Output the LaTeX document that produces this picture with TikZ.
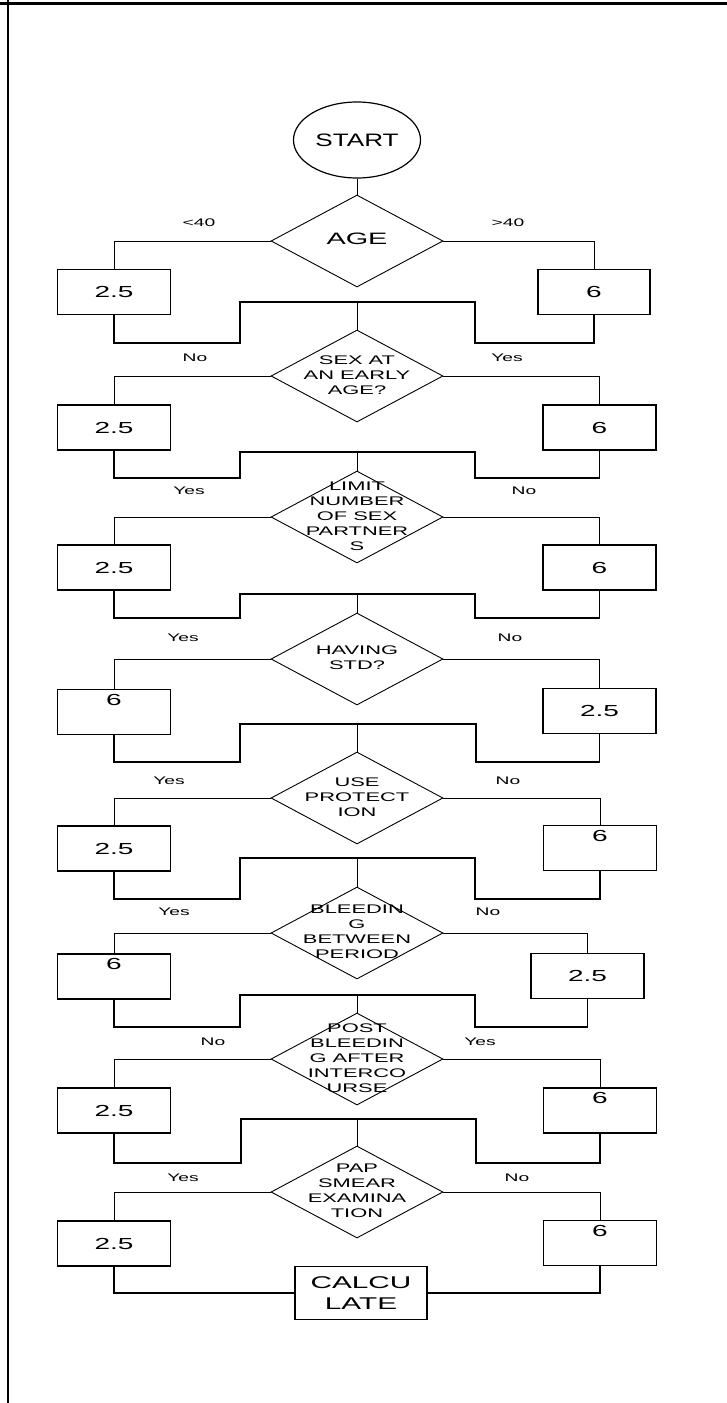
\documentclass[tikz,border=0pt]{standalone}
\usepackage{fontspec}
\setmainfont{Liberation Sans}[FakeStretch=1.75]
\newfontfamily\startfont{Liberation Sans}[FakeStretch=1.45]
\usetikzlibrary{shapes.geometric}

% text of a question, kept out of the size of the diamond
\newcommand{\qtext}[1]{\makebox[0pt]{\raisebox{-0.25em}[0pt][0pt]{\begin{tabular}{@{}c@{}}#1\end{tabular}}}}

\tikzset{
    startnode/.style={draw, ellipse, line width=1.2pt, minimum width=127pt, minimum height=76pt, font=\startfont\fontsize{18}{20}\selectfont},
    question/.style={draw, diamond, line width=0.9pt, inner sep=0pt, minimum width=172pt, minimum height=92pt, font=\fontsize{12.5}{15}\selectfont},
    valbox/.style={draw, rectangle, line width=1.5pt, minimum width=113pt, minimum height=45pt, font=\fontsize{16}{18}\selectfont},
    topval/.style={valbox, text height=11.5pt, text depth=25pt},
    calcbox/.style={draw, rectangle, line width=1.5pt, minimum width=132pt, minimum height=53pt, align=center, font=\fontsize{17}{21}\selectfont},
    answer/.style={font=\fontsize{11}{13}\selectfont},
    branch/.style={line width=0.8pt},
    merge/.style={line width=1.6pt},
}

\begin{document}
\begin{tikzpicture}[x=1pt, y=-1pt]
    \useasboundingbox (0,0) rectangle (727,1403);
    \draw[line width=3pt] (0,3) -- (727,3);
    \draw[line width=2pt] (7.5,0) -- (7.5,1403);

    \node[startnode] (start) at (357,140) {START};

    % age
    \node[question, font=\fontsize{16.5}{20}\selectfont] (q1) at (357,241) {\qtext{AGE}};
    \node[answer] (q1no) at (199,223) {<40};
    \node[answer] (q1yes) at (508,223) {>40};
    \node[valbox] (l1) at (114,292) {2.5};
    \node[valbox, minimum width=112pt] (r1) at (594,292) {6};

    % sex at an early age
    \node[question] (q2) at (357,376) {\qtext{SEX AT\\AN EARLY\\AGE?}};
    \node[answer] (q2no) at (195,358) {No};
    \node[answer] (q2yes) at (507,358) {Yes};
    \node[valbox] (l2) at (114,427.5) {2.5};
    \node[valbox] (r2) at (599.5,427.5) {6};

    % partners
    \node[question] (q3) at (357,517) {\qtext{LIMIT\\NUMBER\\OF SEX\\PARTNER\\S}};
    \node[answer] (q3yes) at (189,491) {Yes};
    \node[answer] (q3no) at (524,491) {No};
    \node[valbox] (l3) at (114,567.5) {2.5};
    \node[valbox] (r3) at (599.5,567.5) {6};

    % std
    \node[question] (q4) at (357,659) {\qtext{HAVING\\STD?}};
    \node[answer] (q4yes) at (183,638) {Yes};
    \node[answer] (q4no) at (510,638) {No};
    \node[topval] (l4) at (114,712) {6};
    \node[valbox] (r4) at (599.5,711) {2.5};

    % protection
    \node[question] (q5) at (357,798) {\qtext{USE\\PROTECT\\ION}};
    \node[answer] (q5yes) at (169,781) {Yes};
    \node[answer] (q5no) at (508,781) {No};
    \node[valbox] (l5) at (114,848.5) {2.5};
    \node[topval] (r5) at (600,848) {6};

    % bleeding between period
    \node[question] (q6) at (357,933) {\qtext{BLEEDIN\\G\\BETWEEN\\PERIOD}};
    \node[answer] (q6yes) at (174,912) {Yes};
    \node[answer] (q6no) at (488,912) {No};
    \node[topval] (l6) at (114,976.5) {6};
    \node[valbox] (r6) at (587.5,976) {2.5};

    % post bleeding
    \node[question] (q7) at (357,1059) {\qtext{POST\\BLEEDIN\\G AFTER\\INTERCO\\URSE}};
    \node[answer] (q7no) at (213,1042) {No};
    \node[answer] (q7yes) at (480,1042) {Yes};
    \node[valbox] (l7) at (114,1110.5) {2.5};
    \node[topval] (r7) at (600,1110.5) {6};

    % pap smear
    \node[question] (q8) at (357,1192) {\qtext{PAP\\SMEAR\\EXAMINA\\TION}};
    \node[answer] (q8yes) at (183,1178) {Yes};
    \node[answer] (q8no) at (517,1178) {No};
    \node[valbox] (l8) at (114,1243.5) {2.5};
    \node[topval] (r8) at (600,1243) {6};

    \node[calcbox] (calc) at (361,1293) {CALCU\\LATE};

    % branches
    \draw[branch] (start) -- (q1);
    \foreach \i in {1,...,8} {
        \draw[branch] (q\i.west) -| (l\i.north);
        \draw[branch] (q\i.east) -| (r\i.north);
    }

    % joins
    \coordinate (m1) at (357,302);
    \coordinate (m2) at (357,452);
    \coordinate (m3) at (357,594);
    \coordinate (m4) at (357,724);
    \coordinate (m5) at (357,858);
    \coordinate (m6) at (357,995);
    \coordinate (m7) at (357,1119);
    \draw[merge] (l1.south) |- (240,343) |- (m1) -| (475,343) -| (r1.south);
    \draw[merge] (l2.south) |- (240,478) |- (m2) -| (475,478) -| (r2.south);
    \draw[merge] (l3.south) |- (240,618) |- (m3) -| (475,618) -| (r3.south);
    \draw[merge] (l4.south) |- (240,762) |- (m4) -| (476,762) -| (r4.south);
    \draw[merge] (l5.south) |- (240,899) |- (m5) -| (475,899) -| (r5.south);
    \draw[merge] (l6.south) |- (240,1027) |- (m6) -| (475,1027) -| (r6.south);
    \draw[merge] (l7.south) |- (241,1163) |- (m7) -| (476,1163) -| (r7.south);
    \draw[branch] (m1) -- (q2.north);
    \draw[branch] (m2) -- (q3.north);
    \draw[branch] (m3) -- (q4.north);
    \draw[branch] (m4) -- (q5.north);
    \draw[branch] (m5) -- (q6.north);
    \draw[branch] (m6) -- (q7.north);
    \draw[branch] (m7) -- (q8.north);
    \draw[merge] (l8.south) |- (calc.west);
    \draw[merge] (r8.south) |- (calc.east);
\end{tikzpicture}
\end{document}
